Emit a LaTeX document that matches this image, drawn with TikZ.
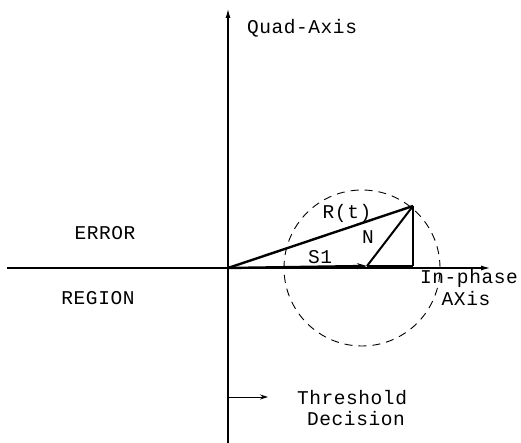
\documentclass[tikz,border=0pt]{standalone}
\usepackage{fontspec}
\setmainfont{Liberation Mono}[LetterSpace=3]
\usetikzlibrary{arrows.meta}

\begin{document}
\begin{tikzpicture}[x=1pt,y=1pt,
  lbl/.style={inner sep=0pt,font=\fontsize{19.5}{22}\selectfont},
  axisline/.style={line width=1.1pt,-{Latex[length=9pt,width=5pt]}},
  vec/.style={line width=2.4pt}]

\useasboundingbox (0,0) rectangle (521,443);

% axes
\coordinate (o) at (228,175);
\coordinate (xl) at (7,175);
\coordinate (xr) at (490,175);
\coordinate (yb) at (228,0);
\coordinate (yt) at (228,434);
\draw[axisline] (xl)--(xr);
\draw[axisline] (yb)--(yt);

% vectors
\coordinate (s) at (367,177);
\coordinate (r) at (413,237);
\coordinate (f) at (413,177);
\draw[vec,-{Stealth[length=10pt,width=6pt]}] (o)--(s);
\draw[vec] (s)--(f);
\draw[vec] (o)--(r);
\draw[line width=2pt] (f)--(r);
\draw[line width=2pt] (s)--(r);

% noise circle
\draw[line width=0.9pt,dash pattern=on 8pt off 6pt] (362,175) circle (78);

% threshold
\coordinate (t) at (268,46);
\draw[line width=0.9pt,-{Stealth[length=8pt,width=5pt]}] (228,46)--(t);

\node[lbl] (quad) at (302,415) {Quad-Axis};
\node[lbl] (err) at (105,210) {ERROR};
\node[lbl] (reg) at (98,145) {REGION};
\node[lbl] (rt) at (347,230) {R(t)};
\node[lbl] (n) at (368,206) {N};
\node[lbl] (s1) at (320,186) {S1};
\node[lbl] (ip) at (469,165) {In-phase};
\node[lbl] (ax) at (466,144) {AXis};
\node[lbl] (thr) at (352,45) {Threshold};
\node[lbl] (dec) at (356,24) {Decision};

\end{tikzpicture}
\end{document}
